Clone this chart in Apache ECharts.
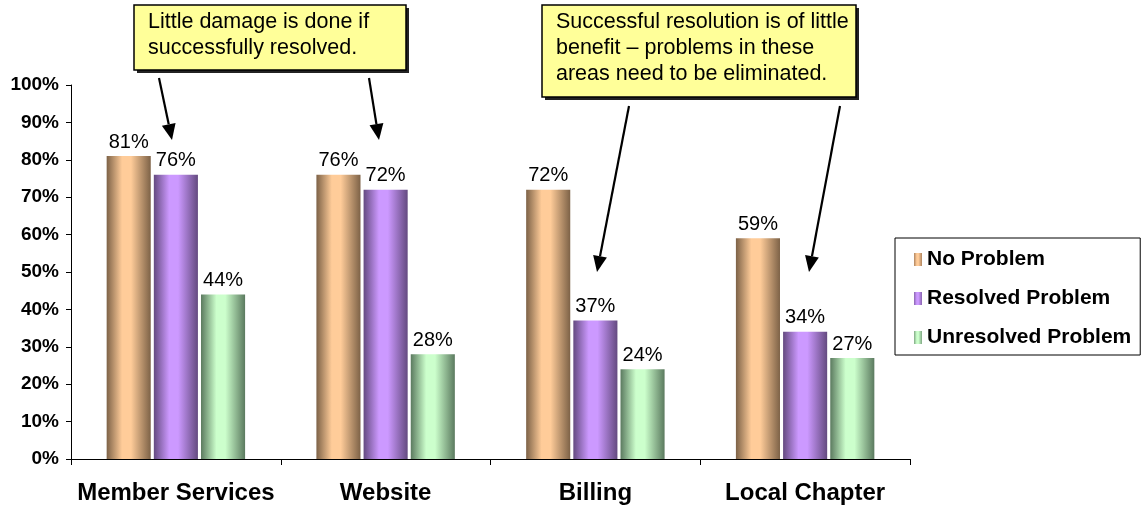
<!DOCTYPE html>
<html>
<head>
<meta charset="utf-8">
<script src="https://cdn.jsdelivr.net/npm/echarts@6/dist/echarts.min.js"></script>
<style>
  html, body { margin: 0; padding: 0; background: #fff; }
  #chart { width: 1141px; height: 508px; }
</style>
</head>
<body>
<div id="chart"></div>
<script>
const categories = ['Member Services', 'Website', 'Billing', 'Local Chapter']
const noProblem = [81, 76, 72, 59]
const resolvedProblem = [76, 72, 37, 34]
const unresolvedProblem = [44, 28, 24, 27]
const seriesNames = ['No Problem', 'Resolved Problem', 'Unresolved Problem']
const notes = [
  'Little damage is done if\nsuccessfully resolved.',
  'Successful resolution is of little\nbenefit \u2013 problems in these\nareas need to be eliminated.'
]

const chart = echarts.init(document.getElementById('chart'))

// horizontal "cylinder" shading like the old office charts
function shade(edge, mid) {
  return new echarts.graphic.LinearGradient(0, 0, 1, 0, [
    { offset: 0, color: edge },
    { offset: 0.35, color: mid },
    { offset: 0.55, color: mid },
    { offset: 1, color: edge },
  ])
}
const fills = [
  shade('#7d6247', '#ffcc99'),
  shade('#644a80', '#cc99ff'),
  shade('#5b7a5f', '#ccffcc'),
]
const swatch = [
  shade('#b08560', '#ffcc99'),
  shade('#8a66b0', '#cc99ff'),
  shade('#80a884', '#ccffcc'),
]

const font = 'Arial, "Liberation Sans", sans-serif'

function barSeries(name, data, i) {
  return {
    name, type: 'bar', data,
    barGap: '7%', barCategoryGap: '34%',
    itemStyle: { color: fills[i] },
    label: {
      show: true, position: 'top', distance: 4,
      formatter: '{c}%', color: '#000', fontSize: 20, fontFamily: font,
    },
  }
}

function noteBox(x, y, w, h, text) {
  return {
    type: 'group', x, y,
    children: [
      { type: 'rect', shape: { x: 3, y: 3, width: w, height: h }, style: { fill: '#222' } },
      { type: 'rect', shape: { x: 0, y: 0, width: w, height: h }, style: { fill: '#ffff99', stroke: '#000', lineWidth: 1.5 } },
      { type: 'text', x: 14, y: 4, style: { text, font: '21.5px ' + font, fill: '#000', lineHeight: 26, verticalAlign: 'top' } },
    ],
  }
}

// line plus a filled head at (x2, y2)
function arrow(x1, y1, x2, y2) {
  const dx = x2 - x1, dy = y2 - y1
  const len = Math.sqrt(dx * dx + dy * dy)
  const ux = dx / len, uy = dy / len
  const hl = 16, hw = 7
  const bx = x2 - ux * hl, by = y2 - uy * hl
  return [
    { type: 'line', shape: { x1, y1, x2: bx, y2: by }, style: { stroke: '#000', lineWidth: 2.2 } },
    {
      type: 'polygon',
      shape: { points: [[x2, y2], [bx - uy * hw, by + ux * hw], [bx + uy * hw, by - ux * hw]] },
      style: { fill: '#000' },
    },
  ]
}

chart.setOption({
  animation: false,
  grid: { left: 71, top: 85, right: 231, bottom: 49, containLabel: false },
  legend: {
    orient: 'vertical', left: 895, top: 238, width: 244,
    padding: [11, 9, 7, 19], itemGap: 18,
    borderColor: '#000', borderWidth: 1,
    icon: 'rect', itemWidth: 8, itemHeight: 13,
    textStyle: { fontSize: 21, fontWeight: 'bold', fontFamily: font, color: '#000' },
    data: seriesNames.map((n, i) => ({ name: n, itemStyle: { color: swatch[i] } })),
  },
  xAxis: {
    type: 'category', data: categories,
    axisLine: { lineStyle: { color: '#000', width: 1 } },
    axisTick: { show: true, length: 6, interval: 0, lineStyle: { color: '#000' } },
    axisLabel: { interval: 0, color: '#000', fontSize: 24, fontWeight: 'bold', fontFamily: font, margin: 22 },
  },
  yAxis: {
    type: 'value', min: 0, max: 100, interval: 10,
    axisLine: { show: true, lineStyle: { color: '#000', width: 1 } },
    axisTick: { show: true, inside: false, length: 5, lineStyle: { color: '#000' } },
    splitLine: { show: false },
    axisLabel: { color: '#000', fontSize: 19, fontWeight: 'bold', fontFamily: font, margin: 12, formatter: '{value}%' },
  },
  series: [
    barSeries(seriesNames[0], noProblem, 0),
    barSeries(seriesNames[1], resolvedProblem, 1),
    barSeries(seriesNames[2], unresolvedProblem, 2),
  ],
  graphic: [
    noteBox(134, 5, 272, 65, notes[0]),
    noteBox(542, 5, 314, 92, notes[1]),
    ...arrow(159, 78, 172, 140),
    ...arrow(369, 78, 379, 140),
    ...arrow(629, 106, 597, 272),
    ...arrow(840, 106, 809, 272),
  ],
})
</script>
</body>
</html>
